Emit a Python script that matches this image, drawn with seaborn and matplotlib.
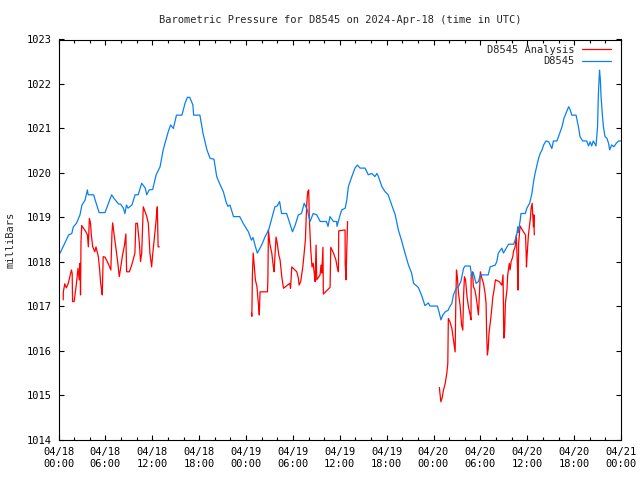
import matplotlib
matplotlib.use("Agg")
import matplotlib.pyplot as plt
from matplotlib.lines import Line2D
import pandas as pd
import seaborn as sns

# hours since 2024-04-18 00:00 UTC, pressure in mbar
blue_hours = [0.0, 0.2, 0.8, 1.3, 1.7, 1.9, 2.3, 2.75, 3.0, 3.4, 3.7, 3.8, 4.5, 4.7, 5.2, 5.95,
              6.4, 6.8, 7.1, 7.7, 7.95, 8.3, 8.5, 8.7, 8.9, 9.4, 9.8, 10.2, 10.65, 11.1, 11.3,
              11.6, 12.05, 12.5, 13.0, 13.4, 14.05, 14.35, 14.7, 15.1, 15.8, 16.2, 16.5, 16.8,
              17.2, 17.3, 18.1, 18.5, 19.0, 19.4, 19.9, 20.25, 20.7, 21.1, 21.5, 21.7, 21.95,
              22.4, 23.2, 23.7, 24.3, 24.7, 24.9, 25.15, 25.45, 26.0, 26.45, 26.9, 27.3, 27.7,
              28.0, 28.3, 28.55, 29.2, 29.6, 29.95, 30.3, 30.7, 31.1, 31.45, 31.85, 32.2, 32.6,
              33.05, 33.5, 34.3, 34.5, 34.75, 35.2, 35.6, 35.65, 36.05, 36.25, 36.7, 36.9, 37.1,
              37.55, 37.95, 38.25, 38.6, 39.25, 39.65, 40.1, 40.5, 40.75, 40.95, 41.4, 41.8,
              42.2, 42.65, 43.1, 43.5, 43.9, 44.35, 44.8, 45.2, 45.45, 46.05, 46.5, 46.9, 47.35,
              47.55, 48.5, 48.75, 48.95, 49.2, 49.5, 49.9, 50.0, 50.35, 50.55, 50.9, 51.2, 51.5,
              51.85, 52.05, 52.7, 52.9, 53.1, 53.45, 53.75, 54.0, 55.0, 55.25, 55.9, 56.1, 56.3,
              56.75, 56.95, 57.4, 57.6, 58.25, 58.45, 58.65, 58.8, 58.85, 59.1, 59.2, 59.75,
              59.95, 60.3, 60.6, 60.8, 61.0, 61.2, 61.45, 61.65, 61.9, 62.1, 62.4, 62.75, 63.15,
              63.35, 63.8, 64.0, 64.45, 64.7, 65.05, 65.3, 65.5, 65.7, 66.25, 66.55, 66.75,
              67.1, 67.6, 67.85, 68.05, 68.25, 68.45, 68.8, 69.0, 69.1, 69.25, 69.35, 69.45,
              69.6, 69.75, 69.95, 70.2, 70.4, 70.55, 70.8, 71.1, 71.4, 71.7, 71.95]
blue_mbar = [1018.18, 1018.20, 1018.42, 1018.61, 1018.64, 1018.79, 1018.87, 1019.06, 1019.28,
             1019.39, 1019.62, 1019.51, 1019.51, 1019.39, 1019.11, 1019.11, 1019.32, 1019.51,
             1019.43, 1019.30, 1019.30, 1019.21, 1019.09, 1019.28, 1019.21, 1019.28, 1019.51,
             1019.51, 1019.77, 1019.66, 1019.51, 1019.62, 1019.63, 1019.96, 1020.14, 1020.52,
             1020.93, 1021.08, 1021.00, 1021.30, 1021.30, 1021.57, 1021.70, 1021.70, 1021.53,
             1021.30, 1021.30, 1020.89, 1020.52, 1020.33, 1020.31, 1019.92, 1019.73, 1019.58,
             1019.32, 1019.25, 1019.28, 1019.02, 1019.02, 1018.85, 1018.68, 1018.49, 1018.55,
             1018.38, 1018.20, 1018.38, 1018.57, 1018.72, 1018.98, 1019.24, 1019.26, 1019.36,
             1019.09, 1019.09, 1018.87, 1018.68, 1018.83, 1019.06, 1019.09, 1019.32, 1019.17,
             1018.91, 1019.09, 1019.06, 1018.91, 1018.91, 1018.80, 1019.02, 1018.91, 1018.91,
             1018.80, 1019.06, 1019.17, 1019.21, 1019.39, 1019.69, 1019.92, 1020.11, 1020.18,
             1020.11, 1020.11, 1019.96, 1019.99, 1019.92, 1019.99, 1019.92, 1019.69, 1019.58,
             1019.51, 1019.28, 1019.06, 1018.72, 1018.49, 1018.20, 1017.93, 1017.75, 1017.52,
             1017.43, 1017.24, 1017.02, 1017.08, 1017.01, 1017.01, 1016.85, 1016.70, 1016.81,
             1016.88, 1016.92, 1016.97, 1017.07, 1017.26, 1017.41, 1017.45, 1017.56, 1017.86,
             1017.91, 1017.91, 1017.67, 1017.76, 1017.52, 1017.56, 1017.71, 1017.71, 1017.89,
             1017.93, 1018.01, 1018.20, 1018.31, 1018.20, 1018.34, 1018.40, 1018.40, 1018.49,
             1018.61, 1018.79, 1018.66, 1018.94, 1019.09, 1019.09, 1019.21, 1019.32, 1019.54,
             1019.80, 1019.99, 1020.14, 1020.33, 1020.44, 1020.52, 1020.63, 1020.72, 1020.70,
             1020.55, 1020.72, 1020.72, 1020.82, 1021.04, 1021.23, 1021.38, 1021.49, 1021.42,
             1021.30, 1021.30, 1021.04, 1020.82, 1020.72, 1020.72, 1020.61, 1020.70, 1020.61,
             1020.72, 1020.61, 1021.04, 1021.75, 1022.31, 1022.12, 1021.71, 1021.34, 1021.04,
             1020.82, 1020.78, 1020.67, 1020.52, 1020.63, 1020.59, 1020.67, 1020.72, 1020.72]

# analysis series comes in three runs with gaps between them
red1_hours = [0.6, 0.62, 0.8, 1.0, 1.25, 1.45, 1.65, 1.75, 1.8, 2.0, 2.25, 2.5, 2.65, 2.75, 2.82,
              2.88, 2.97, 3.5, 3.7, 3.82, 3.95, 4.1, 4.2, 4.38, 4.65, 4.8, 5.1, 5.25, 5.4, 5.52,
              5.6, 5.72, 5.95, 6.38, 6.7, 6.85, 6.94, 7.1, 7.35, 7.57, 7.78, 7.95, 8.2, 8.45,
              8.62, 8.72, 9.07, 9.37, 9.6, 9.78, 9.9, 10.1, 10.35, 10.5, 10.65, 10.85, 11.08,
              11.3, 11.5, 11.7, 11.92, 12.05, 12.35, 12.48, 12.57, 12.65, 12.75, 12.9]
red1_mbar = [1017.15, 1017.33, 1017.51, 1017.42, 1017.52, 1017.67, 1017.82, 1017.75, 1017.11,
             1017.11, 1017.45, 1017.86, 1017.60, 1017.97, 1017.26, 1018.46, 1018.82, 1018.68,
             1018.61, 1018.34, 1018.98, 1018.87, 1018.61, 1018.34, 1018.23, 1018.34, 1018.12,
             1017.86, 1017.52, 1017.37, 1017.26, 1018.12, 1018.11, 1017.96, 1017.82, 1018.68,
             1018.88, 1018.64, 1018.31, 1018.01, 1017.67, 1017.86, 1018.16, 1018.38, 1018.63,
             1017.78, 1017.78, 1017.93, 1018.08, 1018.20, 1018.87, 1018.87, 1018.42, 1018.01,
             1018.20, 1019.24, 1019.13, 1019.02, 1018.87, 1018.20, 1017.89, 1018.16, 1018.68,
             1018.91, 1019.13, 1019.24, 1018.34, 1018.34]

red2_hours = [24.7, 24.75, 24.82, 24.92, 25.05, 25.2, 25.4, 25.6, 25.7, 25.8, 26.75, 26.8, 26.87,
              27.0, 27.08, 27.3, 27.5, 27.6, 27.7, 27.85, 28.0, 28.2, 28.36, 28.58, 28.8, 29.6,
              29.7, 29.86, 30.5, 30.7, 30.8, 31.0, 31.27, 31.4, 31.6, 31.7, 31.78, 31.9, 32.03,
              32.1, 32.29, 32.45, 32.6, 32.76, 32.85, 32.97, 33.06, 33.48, 33.6, 33.7, 33.85,
              33.9, 34.76, 34.85, 35.2, 35.5, 35.7, 35.83, 35.87, 36.68, 36.7, 36.8, 36.9, 37.0]
red2_mbar = [1016.85, 1016.78, 1017.71, 1018.20, 1017.93, 1017.60, 1017.45, 1017.03, 1016.81,
             1017.33, 1017.33, 1017.60, 1018.72, 1018.49, 1018.38, 1018.20, 1017.89, 1017.78,
             1018.12, 1018.56, 1018.42, 1018.16, 1018.05, 1017.67, 1017.41, 1017.52, 1017.41,
             1017.89, 1017.78, 1017.64, 1017.48, 1017.56, 1017.89, 1018.12, 1018.49, 1018.98,
             1019.32, 1019.58, 1019.62, 1019.00, 1018.27, 1017.89, 1017.97, 1017.71, 1017.56,
             1018.38, 1017.60, 1017.71, 1017.93, 1017.75, 1018.33, 1017.28, 1017.43, 1018.33,
             1018.20, 1018.05, 1017.86, 1017.78, 1018.70, 1018.72, 1017.97, 1017.60, 1018.27,
             1018.91]

red3_hours = [48.75, 48.85, 48.94, 49.1, 49.27, 49.5, 49.7, 49.83, 49.9, 50.1, 50.35, 50.55,
              50.77, 50.85, 50.94, 51.05, 51.2, 51.4, 51.6, 51.75, 51.84, 51.96, 52.1, 52.3,
              52.5, 52.7, 52.8, 52.82, 53.0, 53.1, 53.3, 53.45, 53.6, 53.75, 53.9, 54.0, 54.2,
              54.4, 54.6, 54.73, 54.8, 54.9, 55.0, 55.1, 55.33, 55.46, 55.6, 55.75, 55.93, 56.4,
              56.75, 56.9, 56.95, 57.0, 57.1, 57.2, 57.4, 57.5, 57.7, 57.8, 57.94, 58.15, 58.24,
              58.45, 58.6, 58.75, 58.83, 58.9, 59.08, 59.5, 59.78, 59.86, 59.9, 60.0, 60.15,
              60.4, 60.5, 60.63, 60.7, 60.8, 60.85, 60.9]
red3_mbar = [1015.18, 1015.01, 1014.86, 1014.94, 1015.12, 1015.27, 1015.50, 1015.72, 1016.73,
             1016.66, 1016.51, 1016.25, 1015.98, 1017.03, 1017.82, 1017.67, 1017.30, 1017.03,
             1016.58, 1016.47, 1017.20, 1017.67, 1017.60, 1017.20, 1016.97, 1016.81, 1016.70,
             1017.71, 1017.78, 1017.45, 1017.37, 1017.22, 1017.03, 1016.81, 1017.37, 1017.78,
             1017.63, 1017.52, 1017.30, 1017.07, 1016.40, 1015.91, 1016.05, 1016.40, 1016.73,
             1016.96, 1017.22, 1017.37, 1017.60, 1017.56, 1017.48, 1017.71, 1017.00, 1016.29,
             1016.43, 1017.07, 1017.37, 1017.71, 1017.97, 1017.82, 1018.01, 1018.12, 1018.24,
             1018.34, 1018.61, 1017.86, 1017.37, 1018.42, 1018.81, 1018.68, 1018.61, 1018.20,
             1017.89, 1018.20, 1018.61, 1018.98, 1019.21, 1019.32, 1019.06, 1018.79, 1019.06,
             1018.61]

tick_hours = list(range(0, 73, 6))
tick_labels = ["04/18\n00:00", "04/18\n06:00", "04/18\n12:00", "04/18\n18:00",
               "04/19\n00:00", "04/19\n06:00", "04/19\n12:00", "04/19\n18:00",
               "04/20\n00:00", "04/20\n06:00", "04/20\n12:00", "04/20\n18:00",
               "04/21\n00:00"]

RED = "#ff0000"
BLUE = "#0a80f0"

blue = pd.DataFrame({"hour": blue_hours, "mbar": blue_mbar})
red = pd.concat([
    pd.DataFrame({"hour": h, "mbar": p, "seg": i})
    for i, (h, p) in enumerate([(red1_hours, red1_mbar),
                                (red2_hours, red2_mbar),
                                (red3_hours, red3_mbar)])
], ignore_index=True)

sns.set_style("ticks")
plt.rcParams["font.family"] = ["DejaVu Sans Mono"]
plt.rcParams["font.size"] = 7.5

fig = plt.figure(figsize=(6.4, 4.8), dpi=100)
ax = fig.add_axes([58.5 / 640, 40 / 480, (621 - 58.5) / 640, (440 - 39.5) / 480])

sns.lineplot(data=red, x="hour", y="mbar", units="seg", estimator=None, sort=False,
             color=RED, lw=0.9, ax=ax)
sns.lineplot(data=blue, x="hour", y="mbar", estimator=None, sort=False,
             color=BLUE, lw=0.9, ax=ax)

ax.set_xlim(0, 72)
ax.set_ylim(1014, 1023)
ax.set_xticks(tick_hours)
ax.set_xticklabels(tick_labels)
ax.set_xticks(range(0, 73, 2), minor=True)
ax.set_yticks(range(1014, 1024))
ax.set_xlabel("")
ax.set_ylabel("")
ax.tick_params(which="both", direction="in", top=True, right=True, width=0.8,
               colors="black", labelsize=7.5, pad=5)
ax.tick_params(which="major", length=3.6)
ax.tick_params(which="minor", length=2)
for s in ax.spines.values():
    s.set_visible(True)
    s.set_linewidth(0.8)
    s.set_color("black")

handles = [Line2D([], [], color=RED, lw=0.9), Line2D([], [], color=BLUE, lw=0.9)]
ax.legend(handles, ["D8545 Analysis", "D8545"], loc="upper right",
          bbox_to_anchor=(0.997, 1.008), frameon=False,
          markerfirst=False, handlelength=2.8, handletextpad=0.7, labelspacing=0.15,
          borderpad=0.5, borderaxespad=0.3, fontsize=7.5)

fig.text(340 / 640, 1 - 20 / 480, "Barometric Pressure for D8545 on 2024-Apr-18 (time in UTC)",
         ha="center", va="center", fontsize=7.5)
fig.text(11 / 640, 0.5, "milliBars", rotation=90, ha="center", va="center", fontsize=7.5)

fig.savefig("out.png", dpi=100)
